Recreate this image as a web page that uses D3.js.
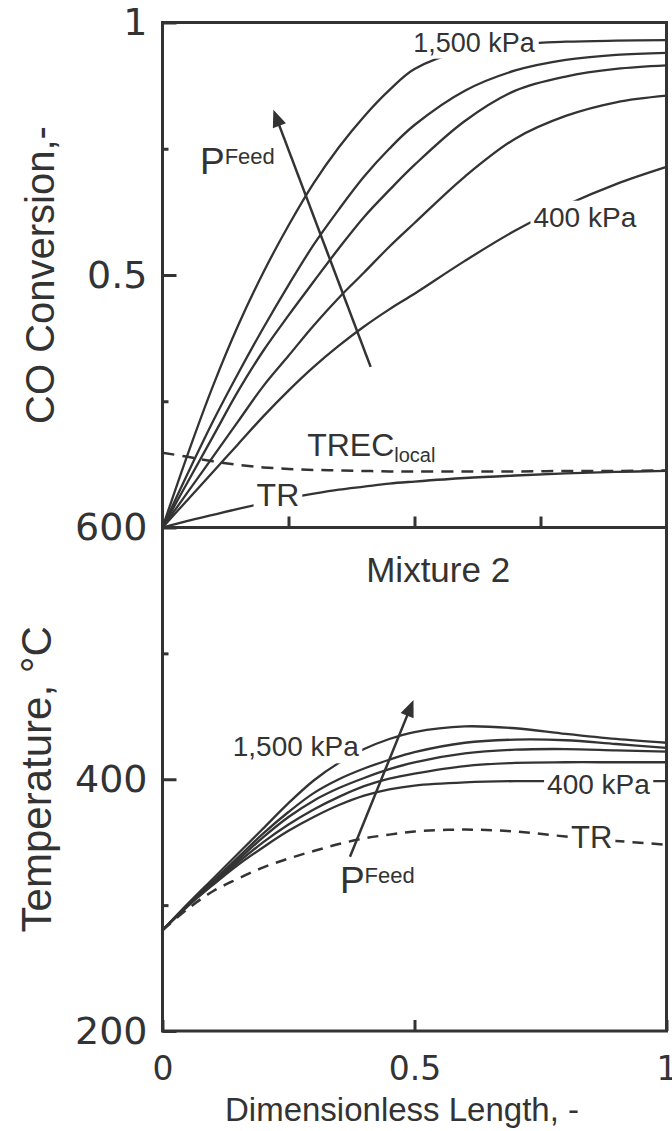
<!DOCTYPE html>
<meta charset="utf-8">
<body>
<script src="https://cdn.jsdelivr.net/npm/d3@7"></script>
<style>
    html, body {
        margin: 0;
        background: #fff;
    }
    svg { display: block; }
</style>
<script>
// dimensionless length grid shared by every series
var len = [0, 0.05, 0.1, 0.15, 0.2, 0.25, 0.3, 0.35, 0.4, 0.45, 0.5, 0.6, 0.7, 0.8, 0.9, 1];

// CO conversion, 1,500 kPa down to 400 kPa
var conv1500 = [0, 0.145, 0.28, 0.40, 0.505, 0.598, 0.682, 0.753, 0.814, 0.866, 0.908, 0.945, 0.957, 0.962, 0.964, 0.965];
var convB    = [0, 0.107, 0.21, 0.305, 0.395, 0.48, 0.56, 0.63, 0.695, 0.75, 0.797, 0.865, 0.905, 0.926, 0.936, 0.94];
var convC    = [0, 0.09, 0.18, 0.27, 0.35, 0.42, 0.487, 0.553, 0.615, 0.668, 0.718, 0.805, 0.865, 0.893, 0.908, 0.915];
var convD    = [0, 0.07, 0.14, 0.21, 0.28, 0.34, 0.40, 0.455, 0.505, 0.556, 0.603, 0.695, 0.77, 0.815, 0.842, 0.855];
var conv400  = [0, 0.055, 0.11, 0.165, 0.22, 0.271, 0.318, 0.36, 0.398, 0.432, 0.463, 0.528, 0.588, 0.638, 0.68, 0.714];
var convTREC = [0.148, 0.14, 0.131, 0.124, 0.119, 0.116, 0.114, 0.113, 0.112, 0.111, 0.111, 0.111, 0.111, 0.112, 0.112, 0.113];
var convTR   = [0, 0.013, 0.025, 0.037, 0.048, 0.058, 0.067, 0.075, 0.081, 0.087, 0.091, 0.098, 0.103, 0.107, 0.110, 0.112];

// temperature, degC
var temp1500 = [280, 301, 321, 341, 361, 381, 399, 413, 424, 432, 437.5, 442, 440.5, 436, 432, 429];
var tempB    = [280, 300, 319, 338, 357, 374, 389, 400, 408.5, 415.5, 421.5, 429, 431.5, 431, 428, 425];
var tempC    = [280, 300, 318, 336, 354, 370, 383, 393, 401, 408, 413.5, 420.5, 423.5, 424, 423, 422];
var tempD    = [280, 299.5, 317, 334, 350, 364, 376, 386, 394.5, 400.5, 404.5, 410.5, 413, 413.5, 413.5, 413.5];
var temp400  = [280, 299, 316, 332, 346, 359, 370, 379.5, 387, 392, 395, 397.5, 398.5, 398.5, 398.5, 398.5];
var tempTR   = [280, 297, 311, 321, 330, 337, 343, 348.5, 353, 356, 358.5, 360, 358.5, 354.5, 351, 348];

var xTicks = [0, 0.5, 1];
var convTicks = [0.5, 1];
var tempTicks = [200, 400, 600];

var ink = "#333",
    sans = "'Liberation Sans', Arial, sans-serif",
    tickFont = "'DejaVu Sans', Verdana, sans-serif";

var svg = d3.select("body").append("svg")
    .attr("width", 672)
    .attr("height", 1131)
    .style("font-family", sans);

var x = d3.scaleLinear().domain([0, 1]).range([162.5, 666.5]),
    yTop = d3.scaleLinear().domain([0, 1]).range([527.5, 22.5]),
    yBot = d3.scaleLinear().domain([200, 600]).range([1031, 527.5]);

function series(vals) {
    return vals.map(function(v, i) { return [len[i], v]; });
}

function tidy(g, size, font) {
    g.select(".domain").remove();
    g.selectAll(".tick line").attr("stroke", ink).attr("stroke-width", 3);
    g.selectAll(".tick text").attr("fill", ink)
        .style("font-size", size + "px").style("font-family", font);
}

// axes (ticks point inwards)
svg.append("g").attr("transform", "translate(" + x(0) + ",0)")
    .call(d3.axisLeft(yTop).tickValues(convTicks).tickSize(-14).tickPadding(15).tickFormat(d3.format("")))
    .call(tidy, 38, tickFont);
svg.append("g").attr("transform", "translate(" + x(0) + ",0)")
    .call(d3.axisLeft(yTop).tickValues([0.25, 0.75]).tickSize(-6).tickFormat(""))
    .call(tidy, 38, tickFont);
svg.append("g").attr("transform", "translate(" + x(0) + ",0)")
    .call(d3.axisLeft(yBot).tickValues(tempTicks).tickSize(-14).tickPadding(15).tickFormat(d3.format("")))
    .call(tidy, 38, tickFont);
svg.append("g").attr("transform", "translate(" + x(0) + ",0)")
    .call(d3.axisLeft(yBot).tickValues([300, 500]).tickSize(-6).tickFormat(""))
    .call(tidy, 38, tickFont);
svg.append("g").attr("transform", "translate(0," + yTop(0) + ")")
    .call(d3.axisBottom(x).tickValues([0.25, 0.5, 0.75]).tickSize(-11).tickFormat(""))
    .call(tidy, 33, tickFont);
svg.append("g").attr("transform", "translate(0," + yBot(200) + ")")
    .call(d3.axisBottom(x).tickValues(xTicks).tickSize(-11).tickPadding(26).tickFormat(d3.format("")))
    .call(tidy, 33, tickFont);

// curves
var lineTop = d3.line().x(function(d) { return x(d[0]); }).y(function(d) { return yTop(d[1]); })
        .curve(d3.curveCatmullRom.alpha(0.5)),
    lineBot = d3.line().x(function(d) { return x(d[0]); }).y(function(d) { return yBot(d[1]); })
        .curve(d3.curveCatmullRom.alpha(0.5));

var plot = svg.append("g").attr("fill", "none").attr("stroke", ink);

[conv1500, convB, convC, convD, conv400, convTR].forEach(function(s) {
    plot.append("path").attr("d", lineTop(series(s))).attr("stroke-width", 2.3);
});
plot.append("path").attr("d", lineTop(series(convTREC)))
    .attr("stroke-width", 2.5).attr("stroke-dasharray", "12,8");

[temp1500, tempB, tempC, tempD, temp400].forEach(function(s) {
    plot.append("path").attr("d", lineBot(series(s))).attr("stroke-width", 2.3);
});
plot.append("path").attr("d", lineBot(series(tempTR)))
    .attr("stroke-width", 2.5).attr("stroke-dasharray", "11,8");

// labels sitting on the curves, with a white knockout
var notes = svg.append("g").attr("fill", ink);

function tag(txt, px, py, size) {
    var t = notes.append("text")
        .attr("x", px).attr("y", py).attr("dy", "0.35em")
        .attr("text-anchor", "middle")
        .style("font-size", size + "px")
        .text(txt);
    var b = t.node().getBBox();
    notes.insert("rect", function() { return t.node(); })
        .attr("x", b.x - 3).attr("y", b.y - 1)
        .attr("width", b.width + 6).attr("height", b.height + 2)
        .attr("fill", "#fff");
}

tag("1,500 kPa", x(0.618), yTop(0.961), 27);
tag("400 kPa", x(0.838), yTop(0.615), 28);
tag("TR", x(0.229), yTop(0.064), 32);
tag("1,500 kPa", x(0.2645), yBot(426), 28);
tag("400 kPa", x(0.865), yBot(395.8), 28);
tag("TR", x(0.8516), yBot(353.7), 31);

var trec = notes.append("text").attr("x", x(0.287)).attr("y", yTop(0.1416))
    .style("font-size", "32px").text("TREC");
trec.append("tspan").attr("dy", 6).style("font-size", "20px").text("local");

function pfeed(px, py) {
    var t = notes.append("text").attr("x", px).attr("y", py).style("font-size", "37px").text("P");
    t.append("tspan").attr("dy", -10).style("font-size", "22px").text("Feed");
}
pfeed(x(0.0744), yTop(0.70));
pfeed(x(0.352), yBot(309.7));

notes.append("text").attr("x", x(0.547)).attr("y", yBot(556.7))
    .attr("text-anchor", "middle").style("font-size", "35px").text("Mixture 2");

// arrows for increasing feed pressure
function arrow(x0, y0, x1, y1) {
    var dx = x1 - x0, dy = y1 - y0, L = Math.sqrt(dx * dx + dy * dy),
        ux = dx / L, uy = dy / L, hl = 17, hw = 7,
        bx = x1 - ux * hl, by = y1 - uy * hl;
    svg.append("line").attr("x1", x0).attr("y1", y0).attr("x2", bx + ux * 2).attr("y2", by + uy * 2)
        .attr("stroke", ink).attr("stroke-width", 2.5);
    svg.append("path")
        .attr("d", "M" + x1 + "," + y1 + "L" + (bx - uy * hw) + "," + (by + ux * hw) +
            "L" + (bx + uy * hw) + "," + (by - ux * hw) + "Z")
        .attr("fill", ink);
}
arrow(x(0.413), yTop(0.318), x(0.22), yTop(0.827));
arrow(x(0.372), yBot(338.5), x(0.498), yBot(463));

// panel frames
svg.append("rect").attr("x", x(0)).attr("y", yTop(1))
    .attr("width", x(1) - x(0)).attr("height", yTop(0) - yTop(1))
    .attr("fill", "none").attr("stroke", ink).attr("stroke-width", 3);
svg.append("rect").attr("x", x(0)).attr("y", yBot(600))
    .attr("width", x(1) - x(0)).attr("height", yBot(200) - yBot(600))
    .attr("fill", "none").attr("stroke", ink).attr("stroke-width", 3);

// axis titles
svg.append("text").attr("transform", "translate(54," + yTop(0.5) + ") rotate(-90)")
    .attr("text-anchor", "middle").attr("fill", ink).style("font-size", "40px")
    .text("CO Conversion,-");
svg.append("text").attr("transform", "translate(51," + yBot(400) + ") rotate(-90)")
    .attr("text-anchor", "middle").attr("fill", ink).style("font-size", "42px")
    .text("Temperature, °C");
svg.append("text").attr("x", 402).attr("y", 1121)
    .attr("text-anchor", "middle").attr("fill", ink).style("font-size", "33px")
    .text("Dimensionless Length, -");
</script>
